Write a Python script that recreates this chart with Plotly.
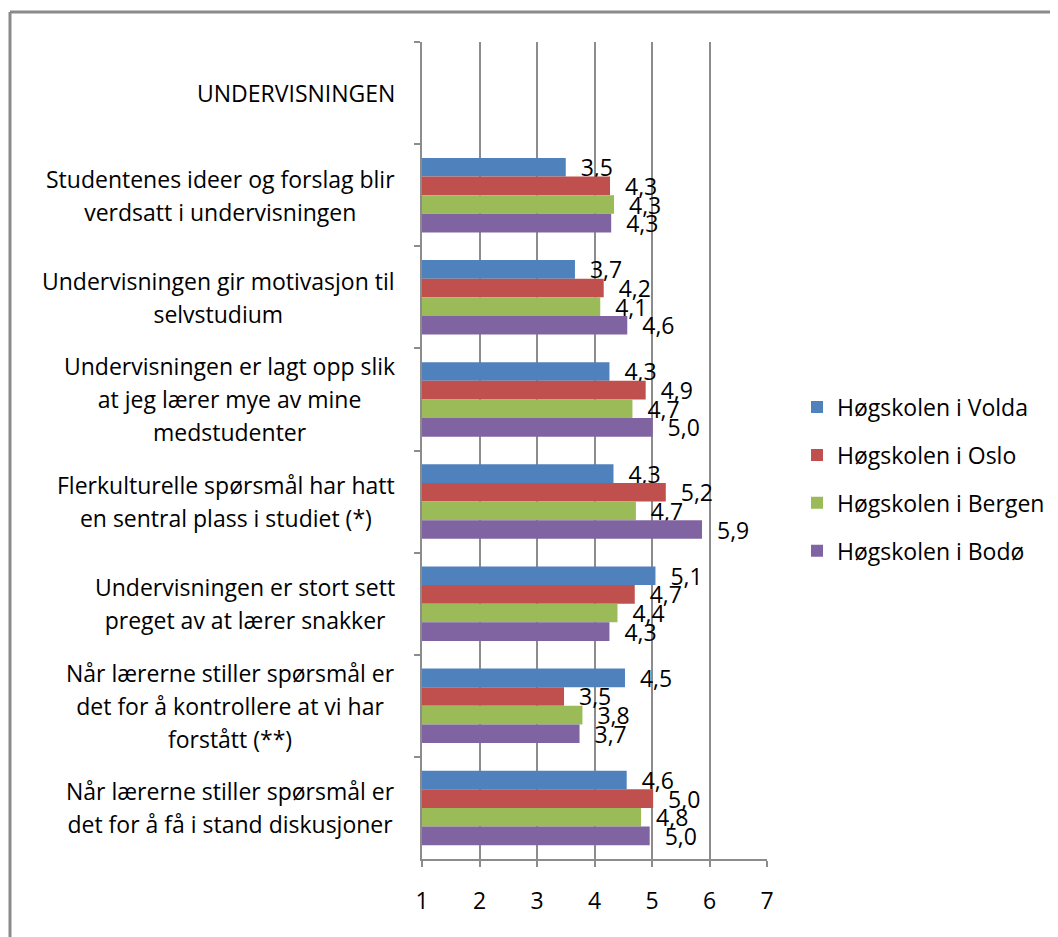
import plotly.graph_objects as go

# --- Data ---
kategorier = [
    "UNDERVISNINGEN",
    "Studentenes ideer og forslag blir\nverdsatt i undervisningen",
    "Undervisningen gir motivasjon til\nselvstudium",
    "Undervisningen er lagt opp slik\nat jeg lærer mye av mine\nmedstudenter",
    "Flerkulturelle spørsmål har hatt\nen sentral plass i studiet (*)",
    "Undervisningen er stort sett\npreget av at lærer snakker",
    "Når lærerne stiller spørsmål er\ndet for å kontrollere at vi har\nforstått (**)",
    "Når lærerne stiller spørsmål er\ndet for å få i stand diskusjoner",
]

skoler = ["Høgskolen i Volda", "Høgskolen i Oslo", "Høgskolen i Bergen", "Høgskolen i Bodø"]

volda = [None, 3.50, 3.66, 4.26, 4.33, 5.06, 4.53, 4.56]
oslo = [None, 4.27, 4.16, 4.89, 5.24, 4.70, 3.47, 5.02]
bergen = [None, 4.34, 4.10, 4.66, 4.72, 4.40, 3.79, 4.81]
bodo = [None, 4.29, 4.57, 5.01, 5.87, 4.26, 3.74, 4.96]

x_ticks = [1, 2, 3, 4, 5, 6, 7]

farger = ["#4F81BD", "#C0504D", "#9BBB59", "#8064A2"]

FONT = "Open Sans"
GRID = "#8C8C8C"
SKALA_START = 1  # skalaen starter på 1


def etikett(v):
    # komma som desimaltegn, litt luft foran
    if v is None:
        return ""
    return "\u00a0\u00a0" + f"{v:.1f}".replace(".", ",")


fig = go.Figure()

for navn, verdier, farge in zip(skoler, [volda, oslo, bergen, bodo], farger):
    fig.add_trace(go.Bar(
        y=kategorier,
        # søylene går fra 1 (base) og har lengde verdi - 1
        x=[None if v is None else v - SKALA_START for v in verdier],
        base=SKALA_START,
        orientation="h",
        name=navn,
        legendgroup=navn,
        marker_color=farge,
        marker_line_width=0,
        text=[etikett(v) for v in verdier],
        textposition="outside",
        textfont=dict(family=FONT, size=23, color="#000000"),
        constraintext="none",
        cliponaxis=False,
    ))

# kategori-etiketter: høyrejustert blokk, sentrerte linjer
# (større grunnfont gir radavstanden, span gir selve tekststørrelsen)
for kat in kategorier:
    tekst = "<br>".join(
        f'<span style="font-size:23px">{linje}</span>' for linje in kat.split("\n")
    )
    fig.add_annotation(
        x=0, xref="paper", y=kat, yref="y",
        xanchor="right", yanchor="middle", align="center",
        xshift=-25,
        text=tekst, showarrow=False,
        font=dict(family=FONT, size=25.4, color="#000000"),
    )

fig.update_layout(
    width=1050,
    height=929,
    margin=dict(l=414, r=291, t=34, b=78, autoexpand=False),
    paper_bgcolor="white",
    plot_bgcolor="white",
    barmode="group",
    bargap=0.27,
    bargroupgap=0,
    font=dict(family=FONT, size=23, color="#000000"),
    legend=dict(
        x=1.087, xanchor="left", y=0.465, yanchor="middle",
        traceorder="grouped", tracegroupgap=15,
        font=dict(family=FONT, size=23, color="#000000"),
        bgcolor="rgba(0,0,0,0)",
    ),
    xaxis=dict(
        range=[1, 7],
        tickvals=x_ticks,
        ticktext=[str(t) for t in x_ticks],
        showgrid=True, gridcolor=GRID, gridwidth=2,
        showline=True, linecolor=GRID, linewidth=2,
        ticks="outside", ticklen=6, tickcolor=GRID, tickwidth=2,
        ticklabelstandoff=14,
        tickfont=dict(family=FONT, size=23, color="#000000"),
        zeroline=False,
        fixedrange=True,
    ),
    yaxis=dict(
        autorange="reversed",
        showticklabels=False,
        showgrid=False,
        showline=True, linecolor=GRID, linewidth=2,
        ticks="outside", ticklen=6, tickcolor=GRID, tickwidth=2,
        tickson="boundaries",
        fixedrange=True,
    ),
    shapes=[
        dict(type="line", xref="paper", yref="paper",
             x0=(10 - 422) / 345, x1=(1070 - 422) / 345,
             y0=(859 - 12) / 817, y1=(859 - 12) / 817,
             line=dict(color="#8A8A8A", width=3)),
        dict(type="line", xref="paper", yref="paper",
             x0=(10 - 422) / 345, x1=(10 - 422) / 345,
             y0=(859 - 12) / 817, y1=(859 - 950) / 817,
             line=dict(color="#8A8A8A", width=3)),
    ],
)

fig.write_html("out.html")
